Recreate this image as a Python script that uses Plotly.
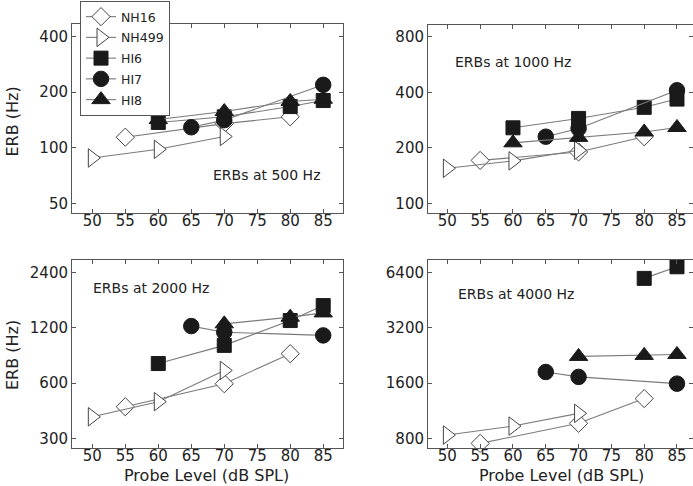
import plotly.graph_objects as go
import math

W, H = 693, 486

# ---------------- data ----------------
levels_NH16 = [55, 70, 80]
levels_NH499 = [50, 60, 70]
levels_HI6 = [60, 70, 80, 85]
levels_HI7 = [65, 70, 85]
levels_HI8 = [60, 70, 80, 85]
levels_HI6_4k = [80, 85]
levels_HI8_hi = [70, 80, 85]

erb500_NH16 = [114, 135, 147]
erb500_NH499 = [88, 98, 115]
erb500_HI6 = [137, 147, 167, 180]
erb500_HI7 = [129, 141, 219]
erb500_HI8 = [142, 157, 178, 183]

erb1000_NH16 = [171, 190, 230]
erb1000_NH499 = [155, 170, 194]
erb1000_HI6 = [257, 289, 332, 368]
erb1000_HI7 = [230, 255, 411]
erb1000_HI8 = [213, 228, 244, 258]

erb2000_NH16 = [446, 595, 867]
erb2000_NH499 = [393, 475, 703]
erb2000_HI6 = [766, 962, 1313, 1584]
erb2000_HI7 = [1225, 1135, 1090]
erb2000_HI8 = [1260, 1370, 1445]

erb4000_NH16 = [751, 966, 1317]
erb4000_NH499 = [834, 933, 1094]
erb4000_HI6 = [5940, 6870]
erb4000_HI7 = [1838, 1728, 1588]
erb4000_HI8 = [2234, 2263, 2290]

x_ticks = [50, 55, 60, 65, 70, 75, 80, 85]
y_ticks_500 = [50, 100, 200, 400]
y_ticks_1000 = [100, 200, 400, 800]
y_ticks_2000 = [300, 600, 1200, 2400]
y_ticks_4000 = [800, 1600, 3200, 6400]

panel_labels = ["ERBs at 500 Hz", "ERBs at 1000 Hz", "ERBs at 2000 Hz", "ERBs at 4000 Hz"]
subjects = ["NH16", "NH499", "HI6", "HI7", "HI8"]

# ---------------- styles ----------------
FONT = "DejaVu Sans"
TXT = "#222222"
AX = "#555555"
LINE = "#7a7a7a"
BLACK = "#1a1a1a"

style = {
    "NH16": dict(symbol="diamond", size=14, color="white", lc="#444444"),
    "NH499": dict(symbol="triangle-right", size=16, color="white", lc="#444444"),
    "HI6": dict(symbol="square", size=14, color=BLACK, lc=BLACK),
    "HI7": dict(symbol="circle", size=15.5, color=BLACK, lc=BLACK),
    "HI8": dict(symbol="triangle-up", size=16, color=BLACK, lc=BLACK),
}

panels = [
    dict(data={"NH16": (levels_NH16, erb500_NH16), "NH499": (levels_NH499, erb500_NH499),
               "HI6": (levels_HI6, erb500_HI6), "HI7": (levels_HI7, erb500_HI7),
               "HI8": (levels_HI8, erb500_HI8)}, yt=y_ticks_500),
    dict(data={"NH16": (levels_NH16, erb1000_NH16), "NH499": (levels_NH499, erb1000_NH499),
               "HI6": (levels_HI6, erb1000_HI6), "HI7": (levels_HI7, erb1000_HI7),
               "HI8": (levels_HI8, erb1000_HI8)}, yt=y_ticks_1000),
    dict(data={"NH16": (levels_NH16, erb2000_NH16), "NH499": (levels_NH499, erb2000_NH499),
               "HI6": (levels_HI6, erb2000_HI6), "HI7": (levels_HI7, erb2000_HI7),
               "HI8": (levels_HI8_hi, erb2000_HI8)}, yt=y_ticks_2000),
    dict(data={"NH16": (levels_NH16, erb4000_NH16), "NH499": (levels_NH499, erb4000_NH499),
               "HI6": (levels_HI6_4k, erb4000_HI6), "HI7": (levels_HI7, erb4000_HI7),
               "HI8": (levels_HI8_hi, erb4000_HI8)}, yt=y_ticks_4000),
]

# pixel geometry of each panel: (left, right, top, bottom), x range
geo = [
    (72, 343, 24, 213.3, [46.92, 88.0]),
    (428, 693, 24.5, 213.3, [47.05, 87.44]),
    (72, 343, 260, 448.3, [46.92, 88.0]),
    (428, 693, 260, 448.3, [47.05, 87.44]),
]

fig = go.Figure()
layout = {}
for i, (p, g) in enumerate(zip(panels, geo)):
    n = "" if i == 0 else str(i + 1)
    xa, ya = "x" + n, "y" + n
    for s in subjects:
        xs, ys = p["data"][s]
        st = style[s]
        fig.add_trace(go.Scatter(
            x=xs, y=ys, mode="lines+markers", name=s,
            xaxis=xa, yaxis=ya, showlegend=(i == 0), legendgroup=s,
            cliponaxis=False,
            line=dict(color=LINE, width=1.1),
            marker=dict(symbol=st["symbol"], size=st["size"], color=st["color"],
                        line=dict(color=st["lc"], width=1)),
        ))
    l, r, t, b, xr = g
    yt = p["yt"]
    lo = math.log10(yt[0]) - 0.18 * math.log10(2)
    hi = math.log10(yt[-1]) + 0.225 * math.log10(2)
    common = dict(showline=True, linecolor=AX, linewidth=1, mirror="ticks",
                  ticks="inside", ticklen=4, tickcolor=AX, showgrid=False,
                  zeroline=False, tickfont=dict(family=FONT, size=15, color=TXT))
    layout["xaxis" + n] = dict(domain=[l / W, r / W], range=xr, tickvals=x_ticks,
                               anchor=ya, ticklabelstandoff=-6, **common)
    layout["yaxis" + n] = dict(domain=[1 - b / H, 1 - t / H], type="log", range=[lo, hi],
                               tickvals=yt, ticktext=[str(v) for v in yt],
                               anchor=xa, **common)

annotations = []
label_pos = [(266.5, 175), (512.5, 62), (151, 288), (516, 294)]
for txt, (px, py) in zip(panel_labels, label_pos):
    annotations.append(dict(text=txt, x=px / W, y=1 - py / H, xref="paper", yref="paper",
                            showarrow=False, xanchor="center", yanchor="middle",
                            font=dict(family=FONT, size=14, color=TXT)))
for py in (121.5, 355):
    annotations.append(dict(text="ERB (Hz)", x=12 / W, y=1 - py / H, xref="paper", yref="paper",
                            showarrow=False, textangle=-90, xanchor="center", yanchor="middle",
                            font=dict(family=FONT, size=16, color=TXT)))
for px in (206, 561):
    annotations.append(dict(text="Probe Level (dB SPL)", x=px / W, y=1 - 475 / H,
                            xref="paper", yref="paper", showarrow=False,
                            xanchor="center", yanchor="middle",
                            font=dict(family=FONT, size=16, color=TXT)))

fig.update_layout(
    width=W, height=H, margin=dict(l=0, r=0, t=0, b=0),
    paper_bgcolor="white", plot_bgcolor="white",
    annotations=annotations,
    legend=dict(x=80 / W, y=1 - 1 / H, xanchor="left", yanchor="top",
                bgcolor="white", bordercolor=AX, borderwidth=1,
                font=dict(family=FONT, size=12.5, color=TXT),
                tracegroupgap=1.5, itemwidth=30),
    **layout,
)

fig.write_html("out.html")
